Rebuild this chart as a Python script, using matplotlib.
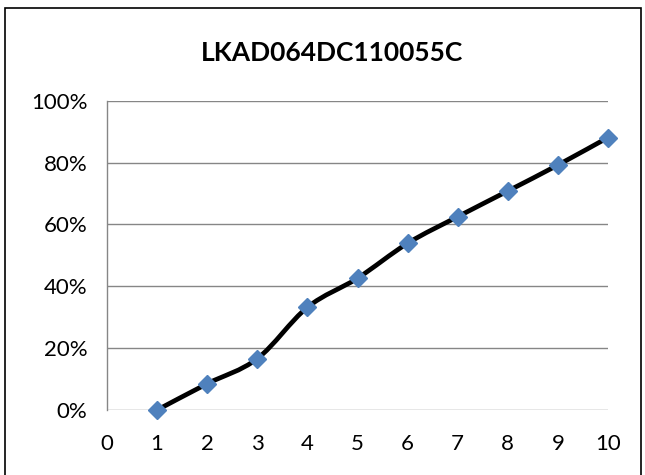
import matplotlib

matplotlib.use("Agg")
import matplotlib.pyplot as plt
from matplotlib.path import Path
from matplotlib.patches import PathPatch, Rectangle

# data
title = "LKAD064DC110055C"
x_vals = [1, 2, 3, 4, 5, 6, 7, 8, 9, 10]
y_vals = [0.0, 0.085, 0.166, 0.332, 0.426, 0.539, 0.625, 0.708, 0.792, 0.881]
x_ticks = [0, 1, 2, 3, 4, 5, 6, 7, 8, 9, 10]
y_ticks = [0.0, 0.2, 0.4, 0.6, 0.8, 1.0]
y_tick_labels = ["0%", "20%", "40%", "60%", "80%", "100%"]

LINE = "black"
MARKER = "#4F81BD"
GRID = "#868686"
FONT = "Lato"


def smooth_path(xs, ys):
    """Excel-like smoothed line: Catmull-Rom segments as cubic Beziers."""
    verts = [(xs[0], ys[0])]
    codes = [Path.MOVETO]
    n = len(xs)
    for i in range(n - 1):
        x0, y0 = (xs[i - 1], ys[i - 1]) if i > 0 else (xs[i], ys[i])
        x1, y1 = xs[i], ys[i]
        x2, y2 = xs[i + 1], ys[i + 1]
        x3, y3 = (xs[i + 2], ys[i + 2]) if i + 2 < n else (x2, y2)
        c1 = (x1 + (x2 - x0) / 6.0, y1 + (y2 - y0) / 6.0)
        c2 = (x2 - (x3 - x1) / 6.0, y2 - (y3 - y1) / 6.0)
        verts += [c1, c2, (x2, y2)]
        codes += [Path.CURVE4] * 3
    return Path(verts, codes)


fig = plt.figure(figsize=(6.45, 4.75), dpi=100)
ax = fig.add_axes([107 / 645, 65 / 475, 501 / 645, 309.3 / 475])

# outer chart border (bottom edge runs off the image, as in the reference)
fig.patches.append(
    Rectangle((5 / 645, -0.05), 636 / 645, 1.05 - 8 / 475,
              transform=fig.transFigure, fill=False, edgecolor="black",
              linewidth=1.2)
)

ax.set_xlim(0, 10)
ax.set_ylim(0, 1)
for y in y_ticks:
    ax.axhline(y, color=GRID, linewidth=1.0, zorder=1)
ax.add_patch(PathPatch(smooth_path(x_vals, y_vals), fill=False,
                       edgecolor=LINE, linewidth=3.4, capstyle="round",
                       joinstyle="round", zorder=2, clip_on=False))
ax.plot(x_vals, y_vals, linestyle="none", marker="D", markersize=9,
        markerfacecolor=MARKER, markeredgecolor=MARKER, zorder=3,
        clip_on=False)

for side in ["top", "right", "bottom"]:
    ax.spines[side].set_visible(False)
ax.spines["left"].set_color(GRID)
ax.spines["left"].set_linewidth(1.0)

ax.set_xticks(x_ticks)
ax.set_xticklabels([str(t) for t in x_ticks], fontsize=16, family=FONT)
ax.set_yticks(y_ticks)
ax.set_yticklabels(y_tick_labels, fontsize=16, family=FONT)
ax.tick_params(axis="x", length=0, pad=17)
ax.tick_params(axis="y", length=0, pad=14)

fig.text(332 / 645, 1 - 53 / 475, title, ha="center", va="center",
         fontsize=19, fontweight="bold", family=FONT)

fig.savefig("out.png", dpi=100)
